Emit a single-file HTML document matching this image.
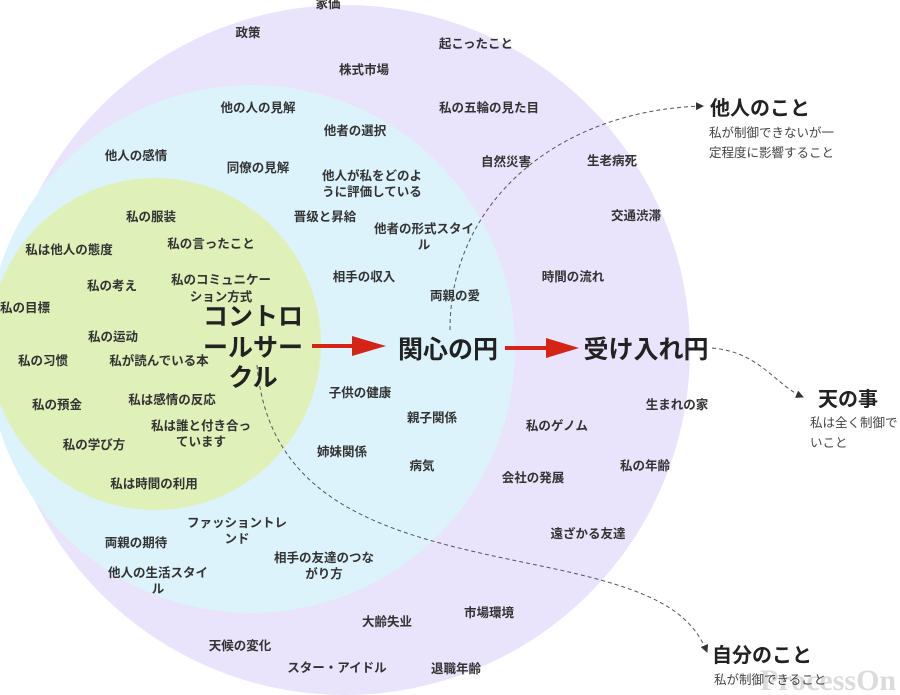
<!DOCTYPE html>
<html><head><meta charset="utf-8"><style>
html,body{margin:0;padding:0;background:#fff;}
svg{display:block;}
.s{font-family:"Liberation Sans","Noto Sans CJK JP",sans-serif;font-size:12.5px;font-weight:bold;fill:#333;text-anchor:middle;}
.b{font-family:"Liberation Sans","Noto Sans CJK JP",sans-serif;font-size:25px;font-weight:bold;fill:#222;text-anchor:middle;}
.h{font-family:"Liberation Sans","Noto Sans CJK JP",sans-serif;font-size:20px;font-weight:bold;fill:#222;}
.d{font-family:"Liberation Sans","Noto Sans CJK JP",sans-serif;font-size:12.5px;fill:#444;}
</style></head><body>
<svg width="900" height="695" viewBox="0 0 900 695" xmlns="http://www.w3.org/2000/svg">
<defs>
<marker id="a" markerWidth="8" markerHeight="8" refX="7" refY="4" orient="auto"><path d="M0,0 L8,4 L0,8 z" fill="#333"/></marker>
</defs>
<circle cx="345" cy="350" r="345" fill="#e9e3fb"/>
<circle cx="251" cy="349" r="264" fill="#dcf3fb"/>
<circle cx="155" cy="344" r="166" fill="#dff0b9"/>

<path d="M450,330 C450,200 560,110 703,106" fill="none" stroke="#555" stroke-width="1" stroke-dasharray="4,3" marker-end="url(#a)"/>
<path d="M712,348 C760,352 775,385 803,397" fill="none" stroke="#555" stroke-width="1" stroke-dasharray="4,3" marker-end="url(#a)"/>
<path d="M257,365 C270,520 420,540 560,570 C650,590 690,610 707,652" fill="none" stroke="#555" stroke-width="1" stroke-dasharray="4,3" marker-end="url(#a)"/>

<line x1="312" y1="346" x2="356" y2="346" stroke="#d42416" stroke-width="4"/>
<path d="M352,336 L386,346 L352,356 z" fill="#d42416"/>
<line x1="505" y1="348" x2="550" y2="348" stroke="#d42416" stroke-width="4"/>
<path d="M546,338 L579,348 L546,358 z" fill="#d42416"/>

<text class="s" x="328" y="8">家価</text>
<text class="s" x="248" y="37">政策</text>
<text class="s" x="476" y="48">起こったこと</text>
<text class="s" x="364" y="74">株式市場</text>
<text class="s" x="489" y="112">私の五輪の見た目</text>
<text class="s" x="506" y="166">自然災害</text>
<text class="s" x="612" y="165">生老病死</text>
<text class="s" x="636" y="220">交通渋滞</text>
<text class="s" x="573" y="281">時間の流れ</text>
<text class="s" x="677" y="409">生まれの家</text>
<text class="s" x="557" y="430">私のゲノム</text>
<text class="s" x="645" y="470">私の年齢</text>
<text class="s" x="533" y="482">会社の発展</text>
<text class="s" x="588" y="538">遠ざかる友達</text>
<text class="s" x="489" y="617">市場環境</text>
<text class="s" x="387" y="626">大齢失业</text>
<text class="s" x="240" y="650">天候の変化</text>
<text class="s" x="337" y="672">スター・アイドル</text>
<text class="s" x="456" y="673">退職年齢</text>

<text class="s" x="258" y="112">他の人の見解</text>
<text class="s" x="355" y="135">他者の選択</text>
<text class="s" x="136" y="160">他人の感情</text>
<text class="s" x="258" y="172">同僚の見解</text>
<text class="s" x="372" y="180">他人が私をどのよ</text>
<text class="s" x="372" y="196">うに評価している</text>
<text class="s" x="325" y="221">晋级と昇給</text>
<text class="s" x="424" y="233">他者の形式スタイ</text>
<text class="s" x="424" y="249">ル</text>
<text class="s" x="364" y="281">相手の収入</text>
<text class="s" x="455" y="300">両親の愛</text>
<text class="s" x="360" y="397">子供の健康</text>
<text class="s" x="432" y="422">親子関係</text>
<text class="s" x="342" y="456">姉妹関係</text>
<text class="s" x="422" y="470">病気</text>
<text class="s" x="237" y="527">ファッショントレ</text>
<text class="s" x="237" y="543">ンド</text>
<text class="s" x="136" y="547">両親の期待</text>
<text class="s" x="324" y="562">相手の友達のつな</text>
<text class="s" x="324" y="578">がり方</text>
<text class="s" x="158" y="577">他人の生活スタイ</text>
<text class="s" x="158" y="593">ル</text>

<text class="s" x="151" y="221">私の服装</text>
<text class="s" x="69" y="254">私は他人の態度</text>
<text class="s" x="211" y="248">私の言ったこと</text>
<text class="s" x="112" y="290">私の考え</text>
<text class="s" x="221" y="284">私のコミュニケー</text>
<text class="s" x="221" y="301">ション方式</text>
<text class="s" x="25" y="312">私の目標</text>
<text class="s" x="113" y="341">私の运动</text>
<text class="s" x="43" y="365">私の习惯</text>
<text class="s" x="159" y="365">私が読んでいる本</text>
<text class="s" x="57" y="409">私の預金</text>
<text class="s" x="172" y="404">私は感情の反応</text>
<text class="s" x="201" y="430">私は誰と付き合っ</text>
<text class="s" x="201" y="446">ています</text>
<text class="s" x="94" y="449">私の学び方</text>
<text class="s" x="154" y="488">私は時間の利用</text>

<text class="b" x="253" y="325">コントロ</text>
<text class="b" x="253" y="356">ールサー</text>
<text class="b" x="253" y="386">クル</text>
<text class="b" x="448" y="358">関心の円</text>
<text class="b" x="646" y="358">受け入れ円</text>

<text class="h" x="710" y="115">他人のこと</text>
<text class="d" x="709" y="137">私が制御できないが一</text>
<text class="d" x="709" y="157">定程度に影響すること</text>
<text class="h" x="818" y="406">天の事</text>
<text class="d" x="810" y="427">私は全く制御で</text>
<text class="d" x="810" y="447">いこと</text>
<text class="h" x="712" y="662">自分のこと</text>
<text style="font-family:'Liberation Serif',serif;font-size:30px;font-weight:bold;fill:#ccc;opacity:0.7" x="760" y="690">ProcessOn</text>
<text class="d" x="714" y="684">私が制御できること</text>
</svg>
</body></html>
